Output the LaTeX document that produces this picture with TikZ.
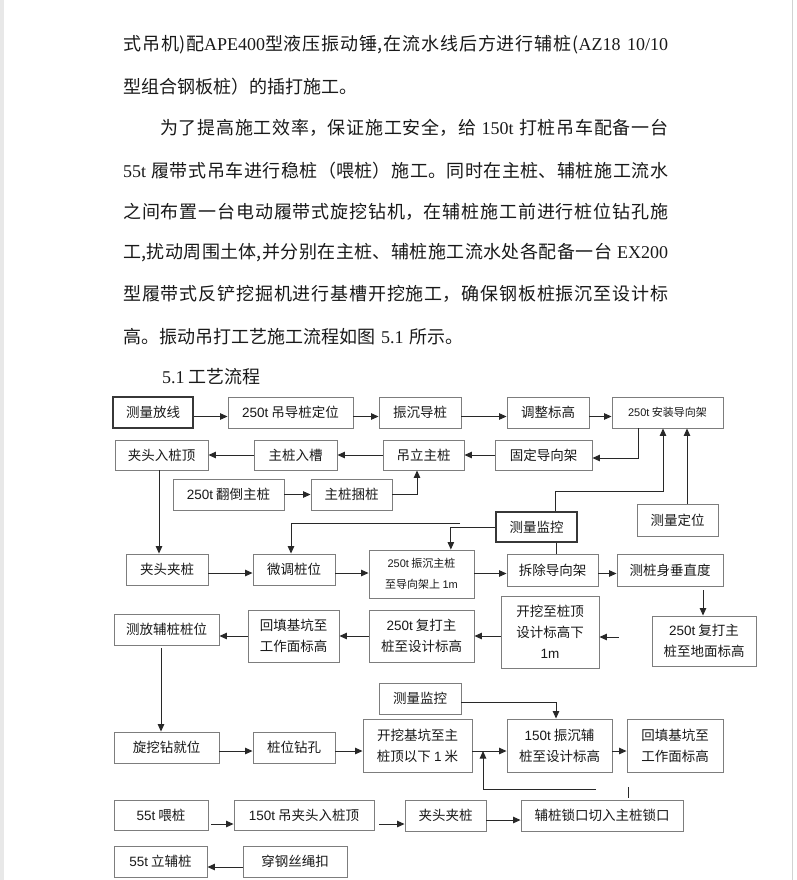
\documentclass[tikz,border=0pt]{standalone}
\usepackage{fontspec}
\usepackage{tikz}
\usetikzlibrary{arrows.meta}
\newfontfamily\cjk{Noto Sans CJK SC}
\newfontfamily\latsans{Liberation Sans}
\newfontfamily\latserif{Liberation Serif}
\newcommand{\serifen}[1]{{\latserif #1}}
\newcommand{\sansen}[1]{{\latsans #1}}
\newcommand{\manhang}{\parfillskip=0pt\relax}
\XeTeXlinebreaklocale "zh"
\XeTeXlinebreakskip=0pt plus 1pt
\definecolor{kuang}{RGB}{125,125,125}
\definecolor{kuangdark}{RGB}{55,55,55}
\definecolor{xian}{RGB}{40,40,40}
\definecolor{wenzi}{RGB}{25,25,25}

\begin{document}
\begin{tikzpicture}[x=1pt, y=-1pt,
    kuangbox/.style={draw=kuang, line width=0.9pt, fill=white, text=wenzi, align=center, inner sep=1pt,
      font=\cjk\fontsize{13.5}{21}\selectfont},
    kuangbold/.style={kuangbox, draw=kuangdark, line width=1.3pt},
    xiaozi/.style={font=\cjk\fontsize{11}{21}\selectfont},
    arr/.style={draw=xian, line width=1pt, -{Triangle[length=7.5pt,width=6.5pt]}},
    lin/.style={draw=xian, line width=1pt},
    hang/.style={anchor=west, inner sep=0pt, text width=545pt, align=justify, text=wenzi,
      font=\cjk\fontsize{18}{24}\selectfont, execute at begin node=\manhang},
    hangend/.style={anchor=west, inner sep=0pt, text width=545pt, align=left, text=wenzi,
      font=\cjk\fontsize{18}{24}\selectfont}]

	\useasboundingbox (0,0) rectangle (797,880);
	\fill[gray!18] (0,0) rectangle (4,880);
	\draw[gray!35, line width=1pt] (792,0) -- (792,880);

	% 正文
	\node[hang] (h1) at (123,45) {式吊机)配\serifen{APE400}型液压振动锤,在流水线后方进行辅桩(\serifen{AZ18 10/10}};
	\node[hangend] (h2) at (123,87) {型组合钢板桩）的插打施工。};
	\node[hang] (h3) at (123,128) {\hspace*{37pt}为了提高施工效率，保证施工安全，给 \serifen{150t} 打桩吊车配备一台};
	\node[hang] (h4) at (123,171) {\serifen{55t} 履带式吊车进行稳桩（喂桩）施工。同时在主桩、辅桩施工流水};
	\node[hang] (h5) at (123,212) {之间布置一台电动履带式旋挖钻机，在辅桩施工前进行桩位钻孔施};
	\node[hang] (h6) at (123,253) {工,扰动周围土体,并分别在主桩、辅桩施工流水处各配备一台 \serifen{EX200}};
	\node[hang] (h7) at (123,294) {型履带式反铲挖掘机进行基槽开挖施工，确保钢板桩振沉至设计标};
	\node[hangend] (h8) at (123,337) {高。振动吊打工艺施工流程如图 \serifen{5.1} 所示。};
	\node[anchor=west, inner sep=0pt, text=wenzi, font=\cjk\fontsize{18}{24}\selectfont] (biaoti) at (162,377) {\serifen{5.1} 工艺流程};

	% --- 第一行 ---
	\node[kuangbold, minimum width=80pt, minimum height=31pt] (clfx) at (153,412.5) {测量放线};
	\node[kuangbox, minimum width=125pt, minimum height=31pt] (dzdw) at (290.5,412.5) {\sansen{250t} 吊导桩定位};
	\node[kuangbox, minimum width=82pt, minimum height=31pt] (zcdz) at (420,412.5) {振沉导桩};
	\node[kuangbox, minimum width=82pt, minimum height=31pt] (tzbg) at (548,412.5) {调整标高};
	\node[kuangbox, xiaozi, minimum width=111pt, minimum height=31pt] (azdx) at (667.5,412.5) {\sansen{250t} 安装导向架};

	% --- 第二、三行 ---
	\node[kuangbox, minimum width=93pt, minimum height=30pt] (jtrd) at (161.5,455) {夹头入桩顶};
	\node[kuangbox, minimum width=83pt, minimum height=30pt] (zzrc) at (295.5,455) {主桩入槽};
	\node[kuangbox, minimum width=81pt, minimum height=30pt] (dlzz) at (423.5,455) {吊立主桩};
	\node[kuangbox, minimum width=97pt, minimum height=30pt] (gddx) at (543.5,455) {固定导向架};
	\node[kuangbox, minimum width=111pt, minimum height=31pt] (fdzz) at (228.5,494.5) {\sansen{250t} 翻倒主桩};
	\node[kuangbox, minimum width=81pt, minimum height=31pt] (zzkz) at (351.5,494.5) {主桩捆桩};
	\node[kuangbold, minimum width=81pt, minimum height=30pt] (jk1) at (536.5,527) {测量监控};
	\node[kuangbox, minimum width=81pt, minimum height=32pt] (cldw) at (677.5,520) {测量定位};

	% --- 第四、五行 ---
	\node[kuangbox, minimum width=82pt, minimum height=31pt] (jtjz) at (167,569.5) {夹头夹桩};
	\node[kuangbox, minimum width=82pt, minimum height=31pt] (wtzw) at (294,569.5) {微调桩位};
	\node[kuangbox, xiaozi, minimum width=105pt, minimum height=48pt] (zczz) at (421.5,574) {\sansen{250t} 振沉主桩\\至导向架上 \sansen{1m}};
	\node[kuangbox, minimum width=91pt, minimum height=32pt] (ccdx) at (552.5,570) {拆除导向架};
	\node[kuangbox, minimum width=106pt, minimum height=32pt] (czsd) at (670,570) {测桩身垂直度};
	\node[kuangbox, minimum width=104pt, minimum height=50pt] (fdmg) at (704,641) {\sansen{250t} 复打主\\桩至地面标高};
	\node[kuangbox, minimum width=98pt, minimum height=72pt] (kwzd) at (550,632) {开挖至桩顶\\设计标高下\\\sansen{1m}};
	\node[kuangbox, minimum width=105pt, minimum height=52pt] (fdsj) at (421.5,636) {\sansen{250t} 复打主\\桩至设计标高};
	\node[kuangbox, minimum width=91pt, minimum height=52pt] (htjk1) at (293.5,636) {回填基坑至\\工作面标高};
	\node[kuangbox, minimum width=105pt, minimum height=31pt] (cffz) at (166.5,629.5) {测放辅桩桩位};

	% --- 第六行 ---
	\node[kuangbox, minimum width=82pt, minimum height=31pt] (jk2) at (420,698.5) {测量监控};
	\node[kuangbox, minimum width=105pt, minimum height=31pt] (xwjw) at (166.5,747.5) {旋挖钻就位};
	\node[kuangbox, minimum width=82pt, minimum height=31pt] (zwzk) at (294,747.5) {桩位钻孔};
	\node[kuangbox, minimum width=109pt, minimum height=53pt] (kwjk) at (417.5,745.5) {开挖基坑至主\\桩顶以下 \sansen{1} 米};
	\node[kuangbox, minimum width=105pt, minimum height=53pt] (zcfz) at (559.5,745.5) {\sansen{150t} 振沉辅\\桩至设计标高};
	\node[kuangbox, minimum width=96pt, minimum height=53pt] (htjk2) at (675,745.5) {回填基坑至\\工作面标高};

	% --- 第七、八行 ---
	\node[kuangbox, minimum width=94pt, minimum height=30pt] (wz) at (161,815) {\sansen{55t} 喂桩};
	\node[kuangbox, minimum width=140pt, minimum height=30pt] (djrd) at (304,815) {\sansen{150t} 吊夹头入桩顶};
	\node[kuangbox, minimum width=81pt, minimum height=31pt] (jtjz2) at (445.5,815.5) {夹头夹桩};
	\node[kuangbox, minimum width=162pt, minimum height=31pt] (fzsk) at (602,815.5) {辅桩锁口切入主桩锁口};
	\node[kuangbox, minimum width=93pt, minimum height=31pt] (lfz) at (160.5,861.5) {\sansen{55t} 立辅桩};
	\node[kuangbox, minimum width=104pt, minimum height=31pt] (cgss) at (295,861.5) {穿钢丝绳扣};

	% 连线
	\draw[arr] ([yshift=-4pt]clfx.east) -- ([yshift=-4pt]clfx.east -| dzdw.west);
	\draw[arr] ([yshift=-4pt]dzdw.east) -- ([yshift=-4pt]dzdw.east -| zcdz.west);
	\draw[arr] ([yshift=-4pt]zcdz.east) -- ([yshift=-4pt]zcdz.east -| tzbg.west);
	\draw[arr] ([yshift=-4pt]tzbg.east) -- ([yshift=-4pt]tzbg.east -| azdx.west);
	\draw[arr] ([xshift=-29.5pt]azdx.south) |- ([yshift=-3pt]gddx.east);
	\draw[arr] (gddx) -- (dlzz);
	\draw[arr] (dlzz) -- (zzrc);
	\draw[arr] (zzrc) -- (jtrd);
	\draw[arr] (fdzz) -- (zzkz);
	\draw[arr] (zzkz.east) -| ([xshift=-6.5pt]dlzz.south);
	\draw[arr] ([xshift=-2.5pt]jtrd.south) -- ([xshift=-2.5pt]jtrd.south |- jtjz.north);

	\draw[arr] ([xshift=18.5pt]jk1.north) -- ++(0,-20) -| ([xshift=-4.5pt]azdx.south);
	\draw[arr] ([xshift=9.5pt]cldw.north) -- ([xshift=9.5pt]cldw.north |- azdx.south);
	\draw[lin] (jk1.west) -- ([xshift=-44.5pt]jk1.west);
	\draw[arr] ([xshift=-44.5pt]jk1.west) -- ([xshift=-44.5pt]jk1.west |- zczz.north);
	\coordinate (jkzuo) at (460,523);
	\draw[arr] (jkzuo) -| ([xshift=-3pt]wtzw.north);
	\draw[lin] ([xshift=19.5pt]jk1.south) -- ([xshift=19.5pt]jk1.south |- ccdx.north);

	\draw[arr] ([yshift=-3.5pt]jtjz.east) -- ([yshift=-3.5pt]jtjz.east -| wtzw.west);
	\draw[arr] ([yshift=-3.5pt]wtzw.east) -- ([yshift=-3.5pt]wtzw.east -| zczz.west);
	\draw[arr] ([yshift=-3.5pt]zczz.east |- ccdx) -- ([yshift=-3.5pt]ccdx.west);
	\draw[arr] ([yshift=-3.5pt]ccdx.east) -- ([yshift=-3.5pt]ccdx.east -| czsd.west);
	\draw[arr, shorten <=4pt] ([xshift=33pt]czsd.south) -- ([xshift=33pt]czsd.south |- fdmg.north);
	\draw[arr, shorten <=33pt] ([yshift=4pt]fdmg.west) -- ([yshift=4pt]fdmg.west -| kwzd.east);
	\draw[arr] (kwzd.west |- fdsj) -- (fdsj.east);
	\draw[arr] (fdsj) -- (htjk1);
	\draw[arr] (htjk1.west) -- (htjk1.west -| cffz.east);
	\draw[arr, shorten <=3pt] ([xshift=-5.5pt]cffz.south) -- ([xshift=-5.5pt]cffz.south |- xwjw.north);

	\draw[arr] ([yshift=-3.5pt]jk2.east) -| ([xshift=-3.5pt]zcfz.north);
	\draw[arr] ([yshift=-3.5pt]xwjw.east) -- ([yshift=-3.5pt]xwjw.east -| zwzk.west);
	\draw[arr] ([yshift=-3.5pt]zwzk.east) -- ([yshift=-3.5pt]zwzk.east -| kwjk.west);
	\draw[arr] ([yshift=-5.5pt]kwjk.east) -- ([yshift=-5.5pt]kwjk.east -| zcfz.west);
	\draw[arr] ([yshift=-5.5pt]zcfz.east) -- ([yshift=-5.5pt]zcfz.east -| htjk2.west);
	\draw[lin, shorten <=2pt] ([xshift=26pt]fzsk.north) -- ++(0,-13);
	\coordinate (hkyou) at (596,789);
	\coordinate (hkshang) at (483,751);
	\draw[arr] (hkyou) -| (hkshang);

	\draw[arr, shorten <=3pt] ([yshift=-9pt]wz.east) -- ([yshift=-9pt]wz.east -| djrd.west);
	\draw[arr, shorten <=5pt] ([yshift=-9pt]djrd.east) -- ([yshift=-9pt]djrd.east -| jtjz2.west);
	\draw[arr] ([yshift=-4.5pt]jtjz2.east) -- ([yshift=-4.5pt]jtjz2.east -| fzsk.west);
	\draw[arr] ([yshift=-5.5pt]cgss.west) -- ([yshift=-5.5pt]cgss.west -| lfz.east);

\end{tikzpicture}
\end{document}
